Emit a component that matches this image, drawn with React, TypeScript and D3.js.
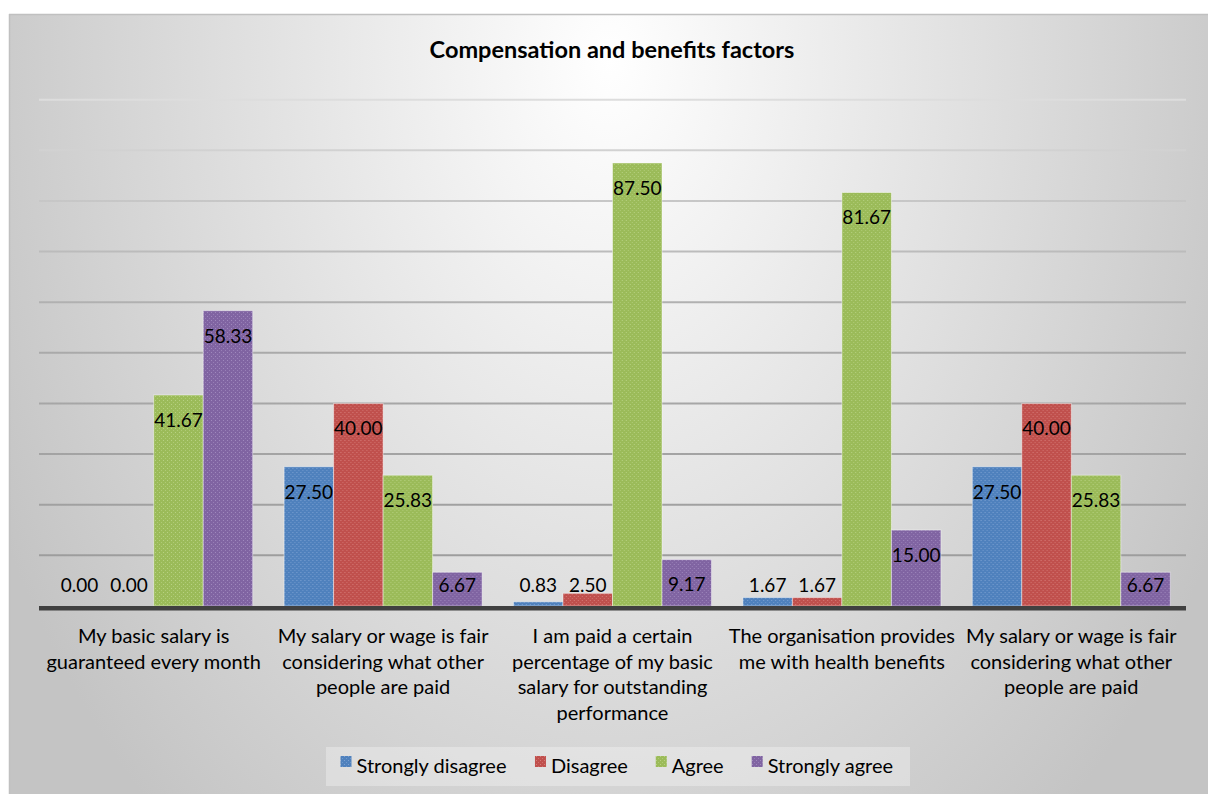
import React from "react";
import * as d3 from "d3";

const categoryLines: string[][] = [
  ["My basic salary is", "guaranteed every month"],
  ["My salary or wage is fair", "considering what other", "people are paid"],
  ["I am paid a certain", "percentage of my basic", "salary for outstanding", "performance"],
  ["The organisation provides", "me with health benefits"],
  ["My salary or wage is fair", "considering what other", "people are paid"],
];
const categories = categoryLines.map((l, i) => `${i}:${l.join(" ")}`);
const seriesNames = ["Strongly disagree", "Disagree", "Agree", "Strongly agree"];
const stronglyDisagree = [0, 27.5, 0.83, 1.67, 27.5];
const disagree = [0, 40, 2.5, 1.67, 40];
const agree = [41.67, 25.83, 87.5, 81.67, 25.83];
const stronglyAgree = [58.33, 6.67, 9.17, 15, 6.67];
const seriesValues = [stronglyDisagree, disagree, agree, stronglyAgree];
const seriesColors = ["#4f81bd", "#c0504d", "#9bbb59", "#8064a2"];
const seriesLight = ["#8fb0dc", "#e08f8c", "#c4dc93", "#ad97c9"];
const yTicks = [0, 10, 20, 30, 40, 50, 60, 70, 80, 90, 100];
const title = "Compensation and benefits factors";

const W = 1208;
const H = 794;
const FONT = "Lato, 'Open Sans', sans-serif";

function measure(text: string, font: string): number {
  if (typeof document === "undefined") return text.length * 9;
  const c = document.createElement("canvas");
  const ctx = c.getContext("2d");
  if (!ctx) return text.length * 9;
  ctx.font = font;
  return ctx.measureText(text).width;
}

export default function App() {
  const plotLeft = 39;
  const plotRight = 1186;
  const baseY = 606;
  const y = d3.scaleLinear().domain([0, 100]).range([baseY, baseY - 506.3]);
  const x0 = d3.scaleBand<string>().domain(categories).range([plotLeft, plotRight]).paddingInner(0).paddingOuter(0);
  const x1 = d3
    .scaleBand<string>()
    .domain(seriesNames)
    .range([0, x0.bandwidth()])
    .paddingInner(0)
    .paddingOuter(0.317);

  const legendFont = `20px ${FONT}`;
  const marker = 11;
  const markerGap = 5;
  const itemGap = 28;
  const widths = seriesNames.map((s) => measure(s, legendFont));
  const totalW = widths.reduce((a, w) => a + marker + markerGap + w, 0) + itemGap * (seriesNames.length - 1);
  const legendCx = 617;
  let cursor = legendCx - totalW / 2;
  const legendItems = seriesNames.map((s, i) => {
    const item = { name: s, x: cursor, color: i };
    cursor += marker + markerGap + widths[i] + itemGap;
    return item;
  });

  return (
    <svg
      width={W}
      height={H}
      style={{ position: "absolute", left: 0, top: 0 }}
      fontFamily={FONT}
    >
      <defs>
        <radialGradient
          id="bg"
          gradientUnits="userSpaceOnUse"
          cx={0}
          cy={0}
          r={1}
          gradientTransform="translate(610,60) scale(690,1000)"
        >
          <stop offset="0" stopColor="#ffffff" />
          <stop offset="1" stopColor="#c4c4c4" />
        </radialGradient>
        <linearGradient id="gridGrad" gradientUnits="userSpaceOnUse" x1={0} y1={95} x2={0} y2={610}>
          <stop offset="0" stopColor="#dedede" />
          <stop offset="0.45" stopColor="#ababab" />
          <stop offset="1" stopColor="#9a9a9a" />
        </linearGradient>
        {seriesColors.map((c, i) => (
          <pattern key={i} id={`pat${i}`} width={4} height={4} patternUnits="userSpaceOnUse">
            <rect width={4} height={4} fill={c} />
            <rect x={0} y={0} width={1} height={1} fill={seriesLight[i]} opacity={0.7} />
            <rect x={2} y={2} width={1} height={1} fill={seriesLight[i]} opacity={0.5} />
          </pattern>
        ))}
      </defs>
      <rect x={0} y={0} width={W} height={H} fill="#ffffff" />
      <rect x={9} y={14} width={W - 9} height={H - 14} fill="url(#bg)" />
      <line x1={9} y1={14.5} x2={W} y2={14.5} stroke="#c0c0c0" strokeWidth={1.5} />
      <line x1={9.5} y1={14} x2={9.5} y2={H} stroke="#c0c0c0" strokeWidth={1.5} />

      <text x={612} y={58} textAnchor="middle" fontSize={23.5} fontWeight="bold" fill="#000">
        {title}
      </text>

      {yTicks.slice(1).map((t) => (
        <line key={t} x1={plotLeft} x2={plotRight} y1={y(t)} y2={y(t)} stroke="url(#gridGrad)" strokeWidth={2} />
      ))}

      {categories.map((cat, ci) => (
        <g key={cat} transform={`translate(${x0(cat)},0)`}>
          {seriesNames.map((s, si) => {
            const v = seriesValues[si][ci];
            const top = y(v);
            const bx = x1(s)!;
            return (
              <rect
                key={s}
                x={bx}
                y={top}
                width={x1.bandwidth()}
                height={baseY - top}
                fill={`url(#pat${si})`}
                stroke="rgba(255,255,255,0.45)"
                strokeWidth={1}
              />
            );
          })}
          {seriesNames.map((s, si) => {
            const v = seriesValues[si][ci];
            const top = y(v);
            const cy = Math.min(top + 25, baseY - 21);
            return (
              <text
                key={s}
                x={x1(s)! + x1.bandwidth() / 2}
                y={cy}
                dy="0.36em"
                textAnchor="middle"
                fontSize={19}
                fill="#000"
              >
                {v.toFixed(2)}
              </text>
            );
          })}
          {categoryLines[ci].map((line, li) => (
            <text
              key={li}
              x={x0.bandwidth() / 2}
              y={643 + li * 25.5}
              textAnchor="middle"
              fontSize={20}
              fill="#000"
            >
              {line}
            </text>
          ))}
        </g>
      ))}

      <line x1={plotLeft} x2={plotRight} y1={baseY + 2.3} y2={baseY + 2.3} stroke="#404040" strokeWidth={4.5} />

      <rect x={326} y={747} width={584} height={39} fill="#ffffff" opacity={0.3} />
      {legendItems.map((it, i) => (
        <g key={it.name}>
          <rect x={it.x} y={766.5 - marker / 2 - 5} width={marker} height={marker} fill={`url(#pat${i})`} />
          <text x={it.x + marker + markerGap} y={773} fontSize={20} fill="#000">
            {it.name}
          </text>
        </g>
      ))}
    </svg>
  );
}
